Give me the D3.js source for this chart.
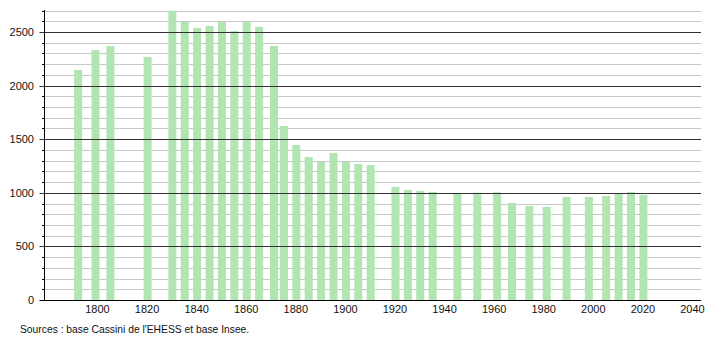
<!DOCTYPE html>
<html lang="fr">
<head>
<meta charset="UTF-8">
<title>Population</title>
<script src="https://d3js.org/d3.v7.min.js"></script>
<style>
  body { margin: 0; padding: 0; background: #fff; }
  text { font-family: "Liberation Sans", Arial, sans-serif; }
</style>
</head>
<body>
<script>
  let annees = [1793, 1800, 1806, 1821, 1831, 1836, 1841, 1846, 1851, 1856, 1861, 1866,
    1872, 1876, 1881, 1886, 1891, 1896, 1901, 1906, 1911, 1921, 1926, 1931, 1936,
    1946, 1954, 1962, 1968, 1975, 1982, 1990, 1999, 2006, 2011, 2016, 2021]
  let population = [2145, 2332, 2369, 2267, 2698, 2596, 2537, 2556, 2596, 2509, 2596, 2547,
    2369, 1623, 1446, 1334, 1287, 1371, 1287, 1269, 1259, 1054, 1026, 1017, 1007,
    989, 1001, 1004, 905, 877, 868, 961, 961, 970, 998, 1007, 980]
  let xTicks = [1800, 1820, 1840, 1860, 1880, 1900, 1920, 1940, 1960, 1980, 2000, 2020, 2040]
  let yTicks = [0, 500, 1000, 1500, 2000, 2500]

  let width = 710
  let height = 340

  let svg = d3.select("body")
    .append("svg")
    .attr("width", width)
    .attr("height", height)

  let x = d3.scaleLinear().domain([1800, 2040]).range([97.5, 692.5])
  let y = d3.scaleLinear().domain([0, 2700]).range([300, 10.5])
  let left = 44.5
  let right = 701

  // grille fine tous les 100
  let mineures = d3.range(100, 2701, 100).filter(v => v % 500 != 0)
  svg.selectAll(".grid")
    .data(mineures)
    .join("line")
    .attr("x1", left)
    .attr("x2", right)
    .attr("y1", d => Math.round(y(d)) + 0.5)
    .attr("y2", d => Math.round(y(d)) + 0.5)
    .attr("stroke", "#c8c8c8")
    .attr("stroke-width", 1)

  svg.selectAll(".bar")
    .data(annees)
    .join("rect")
    .attr("x", (d, i) => x(d) - 6)
    .attr("width", 8)
    .attr("y", (d, i) => y(population[i]))
    .attr("height", (d, i) => y(0) - y(population[i]))
    .attr("fill", "#b1e5b1")

  // grille forte tous les 500
  svg.selectAll(".major")
    .data(yTicks.filter(v => v > 0))
    .join("line")
    .attr("x1", left - 5)
    .attr("x2", right)
    .attr("y1", d => Math.round(y(d)) + 0.5)
    .attr("y2", d => Math.round(y(d)) + 0.5)
    .attr("stroke", "#333")
    .attr("stroke-width", 1)

  svg.selectAll(".minorTick")
    .data(mineures)
    .join("line")
    .attr("x1", left - 2.5)
    .attr("x2", left)
    .attr("y1", d => Math.round(y(d)) + 0.5)
    .attr("y2", d => Math.round(y(d)) + 0.5)
    .attr("stroke", "#000")

  // axes
  svg.append("line")
    .attr("x1", left).attr("x2", left)
    .attr("y1", 10).attr("y2", 300.5)
    .attr("stroke", "#000")
  svg.append("line")
    .attr("x1", left - 5).attr("x2", right)
    .attr("y1", 300.5).attr("y2", 300.5)
    .attr("stroke", "#000")

  svg.selectAll(".ylab")
    .data(yTicks)
    .join("text")
    .attr("x", 34)
    .attr("y", d => y(d) + 4)
    .attr("text-anchor", "end")
    .attr("font-size", "11px")
    .attr("fill", "#111")
    .text(d => d)

  svg.selectAll(".xlab")
    .data(xTicks)
    .join("text")
    .attr("x", d => x(d))
    .attr("y", 313)
    .attr("text-anchor", "middle")
    .attr("font-size", "11px")
    .attr("fill", "#111")
    .text(d => d)

  svg.append("text")
    .attr("x", 20)
    .attr("y", 333)
    .attr("font-size", "10.3px")
    .attr("fill", "#111")
    .text("Sources : base Cassini de l'EHESS et base Insee.")
</script>
</body>
</html>
